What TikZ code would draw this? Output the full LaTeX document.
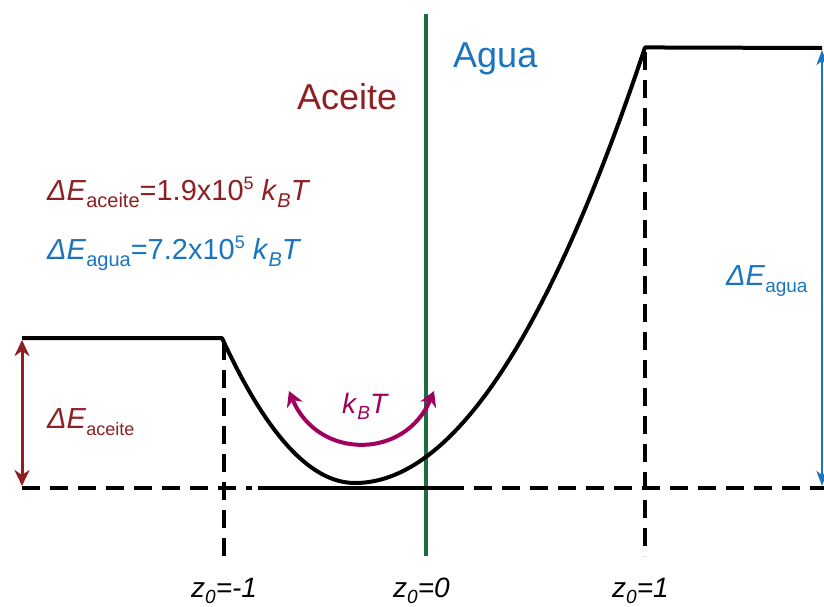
\documentclass[tikz,border=0pt]{standalone}
\usepackage{fontspec}
\setmainfont{Liberation Sans}
\usetikzlibrary{arrows.meta}
\definecolor{oilred}{HTML}{8E1F22}
\definecolor{waterblue}{HTML}{1B75BE}
\definecolor{borderg}{HTML}{1A6E3C}
\definecolor{thermal}{HTML}{A1005E}
\newcommand\fsz[2]{{\fontsize{#1}{#1}\selectfont #2}}
\begin{document}
\begin{tikzpicture}[x=1pt,y=-1pt,
  pot/.style={line width=4pt, black},
  dsh/.style={line width=4pt, black, dash pattern=on 18pt off 10pt},
  lbl/.style={inner sep=0pt, anchor=base west},
  ]
\useasboundingbox (0,0) rectangle (824,606);
% coordinates
\coordinate (pl1) at (22,338);
\coordinate (pl2) at (222,338);
\coordinate (pr1) at (645,48);
\coordinate (pr2) at (822,48);
\coordinate (b0) at (22,488);
\coordinate (b1) at (824,488);
% green interface
\draw[borderg, line width=3.5pt] (426,14) coordinate (g1) -- (426,556) coordinate (g2);
% dashed lines
\draw[dsh] (b0) -- (252,488);
\draw[dsh, dash phase=6pt] (452,488) -- (b1);
\draw[pot] (258,488) -- (452,488);
\draw[dsh] (224,342) -- (224,556);
\draw[dsh] (645,52) -- (645,556);
% potential
\draw[pot, line join=round] (pl1) -- (pl2)
  -- plot[domain=2.22:3.55, samples=40] ({100*\x}, {483-82*(\x-3.55)*(\x-3.55)})
  -- plot[domain=3.55:6.45, samples=60] ({100*\x}, {483-51.8*(\x-3.55)*(\x-3.55)})
  -- (pr2);
% energy arrows
\draw[oilred, line width=3pt, {Stealth[length=16pt,width=15pt,inset=5pt]}-{Stealth[length=16pt,width=15pt,inset=5pt]}] (22,340) -- (22,486);
\draw[waterblue, line width=2.5pt, {Stealth[length=15pt,width=11pt,inset=4pt]}-{Stealth[length=15pt,width=11pt,inset=4pt]}] (822,50) -- (822,486);
% thermal arc
\draw[thermal, line width=4pt, {Stealth[length=15pt,width=17pt,inset=5pt]}-{Stealth[length=15pt,width=17pt,inset=5pt]}] (289,391) .. controls (318,460) and (405,460) .. (434,391);
% labels
\node[lbl, text=oilred] (aceite) at (297,109) {\fsz{36}{Aceite}};
\node[lbl, text=waterblue] (agua) at (453,67) {\fsz{36}{Agua}};
\node[lbl, text=oilred] (eq1) at (47,200) {\fsz{29}{\textit{ΔE}\raisebox{-7pt}{\fsz{20}{aceite}}=1.9x10\raisebox{11pt}{\fsz{18}{5}} \textit{k}\raisebox{-7pt}{\fsz{20}{\textit{B}}}\textit{T}}};
\node[lbl, text=waterblue] (eq2) at (47,259) {\fsz{29}{\textit{ΔE}\raisebox{-7pt}{\fsz{20}{agua}}=7.2x10\raisebox{11pt}{\fsz{18}{5}} \textit{k}\raisebox{-7pt}{\fsz{20}{\textit{B}}}\textit{T}}};
\node[lbl, text=oilred] (dea) at (47,428) {\fsz{29}{\textit{ΔE}\raisebox{-7pt}{\fsz{18}{aceite}}}};
\node[lbl, text=waterblue] (dew) at (726,285) {\fsz{29}{\textit{ΔE}\raisebox{-7pt}{\fsz{19}{agua}}}};
\node[lbl, text=thermal] (kbt) at (342,413) {\fsz{28}{\textit{k}\raisebox{-6pt}{\fsz{19}{\textit{B}}}\textit{T}}};
\node[lbl] (zm) at (191,597) {\fsz{28}{\textit{z}\raisebox{-6pt}{\fsz{19}{\textit{0}}}\textit{=-1}}};
\node[lbl] (z0) at (393,597) {\fsz{28}{\textit{z}\raisebox{-6pt}{\fsz{19}{\textit{0}}}\textit{=0}}};
\node[lbl] (zp) at (612,597) {\fsz{28}{\textit{z}\raisebox{-6pt}{\fsz{19}{\textit{0}}}\textit{=1}}};
\end{tikzpicture}
\end{document}
